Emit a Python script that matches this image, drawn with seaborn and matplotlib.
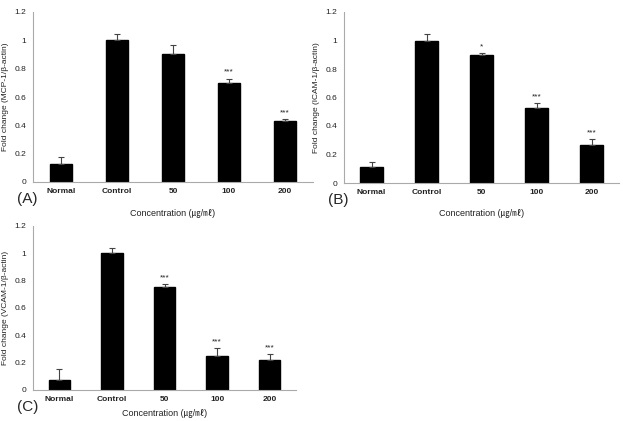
import seaborn as sns
import numpy as np
import matplotlib
matplotlib.use("Agg")
import matplotlib.pyplot as plt

groups = ["Normal", "Control", "50", "100", "200"]

mcp_mean = [0.125, 1.0, 0.905, 0.70, 0.43]
mcp_err = [0.055, 0.045, 0.06, 0.03, 0.015]
mcp_sig = ["", "", "", "***", "***"]

icam_mean = [0.11, 1.0, 0.895, 0.525, 0.27]
icam_err = [0.035, 0.045, 0.015, 0.035, 0.04]
icam_sig = ["", "", "*", "***", "***"]

vcam_mean = [0.075, 1.0, 0.755, 0.25, 0.22]
vcam_err = [0.08, 0.04, 0.02, 0.06, 0.045]
vcam_sig = ["", "", "***", "***", "***"]

yticks = [0, 0.2, 0.4, 0.6, 0.8, 1, 1.2]
ytick_labels = ["0", "0.2", "0.4", "0.6", "0.8", "1", "1.2"]

sns.set_style("white")
plt.rcParams['font.family'] = ['Liberation Sans', 'Noto Sans CJK KR', 'DejaVu Sans']

W, H = 623, 421
fig = plt.figure(figsize=(W / 100, H / 100), dpi=100)


def px_axes(left, top, right, bottom):
    return fig.add_axes([left / W, 1 - bottom / H, (right - left) / W, (bottom - top) / H])


def panel(ax, means, errs, sigs, ylabel, tag, xlab_y):
    x = np.arange(len(groups))
    sns.barplot(x=groups, y=means, color="black", width=0.41, ax=ax,
                saturation=1, edgecolor="black")
    ax.errorbar(x, means, yerr=[np.zeros(len(means)), errs], fmt="none",
                ecolor="#444444", elinewidth=0.8, capsize=2.2, capthick=0.8)
    for xi, m, e, s in zip(x, means, errs, sigs):
        if s:
            ax.text(xi, m + e + 0.02, s, ha="center", va="bottom", fontsize=6,
                    color="#222222")
    ax.set_xlim(-0.5, len(groups) - 0.5)
    ax.set_ylim(0, 1.2)
    ax.set_yticks(yticks)
    ax.set_yticklabels(ytick_labels, fontsize=6, color="#222222")
    ax.set_xticks(x)
    ax.set_xticklabels(groups, fontsize=6, fontweight="bold", color="#222222")
    ax.set_xticks(np.arange(len(groups) + 1) - 0.5, minor=True)
    ax.tick_params(axis="x", which="major", length=0, pad=4)
    ax.tick_params(axis="x", which="minor", length=3, color="#999999", direction="out")
    ax.tick_params(axis="y", length=3, color="#999999", direction="out", pad=2)
    ax.set_ylabel(ylabel, fontsize=6, color="#222222", labelpad=4)
    ax.set_xlabel("")
    for side in ["top", "right"]:
        ax.spines[side].set_visible(False)
    for side in ["left", "bottom"]:
        ax.spines[side].set_color("#aaaaaa")
        ax.spines[side].set_linewidth(0.8)
    bb = ax.get_position()
    fig.text(bb.x0 - 16 / W, bb.y0 - 17 / H, tag, fontsize=11, va="center", ha="left")
    fig.text((bb.x0 + bb.x1) / 2, 1 - xlab_y / H, "Concentration (㎍/㎖)",
             fontsize=6.5, ha="center", va="center", color="#222222")


axA = px_axes(33, 12, 313, 182)
panel(axA, mcp_mean, mcp_err, mcp_sig, "Fold change (MCP-1/β-actin)", "(A)", 213)

axB = px_axes(344, 12, 619, 183)
panel(axB, icam_mean, icam_err, icam_sig, "Fold change (ICAM-1/β-actin)", "(B)", 213)

axC = px_axes(33, 226, 296, 390)
panel(axC, vcam_mean, vcam_err, vcam_sig, "Fold change (VCAM-1/β-actin)", "(C)", 414)

plt.savefig("out.png", dpi=100)
